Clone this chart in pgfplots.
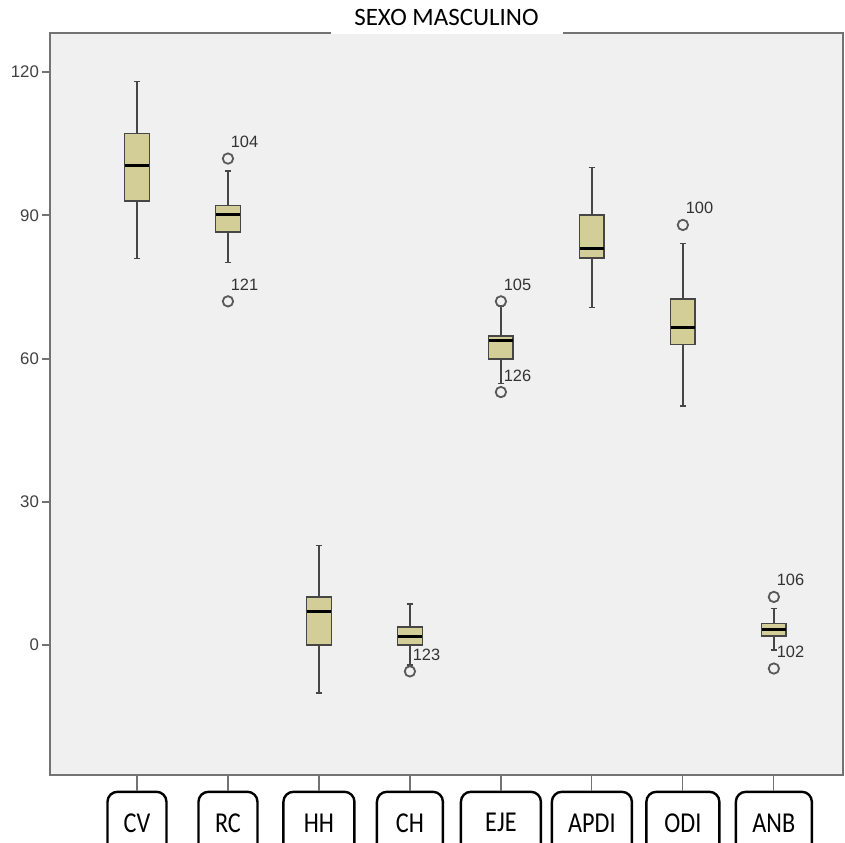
\documentclass[border=0pt]{standalone}
\usepackage{fontspec}
\setmainfont{Liberation Sans}
\newfontfamily\carlito{Carlito}
\usepackage{graphicx}
\usepackage{pgfplots}
\usepgfplotslibrary{statistics}
\pgfplotsset{compat=1.18}
\definecolor{bg}{RGB}{240,240,240}
\definecolor{boxc}{RGB}{211,206,151}
\definecolor{axc}{RGB}{115,115,115}
\definecolor{edge}{RGB}{70,70,70}
\newcommand{\lab}[2]{\makebox[#1]{\scalebox{0.84}[1]{#2}}}
\begin{document}
\begin{tikzpicture}
\begin{axis}[
  scale only axis,
  width=396.5pt, height=371pt,
  xmin=-0.956, xmax=7.76,
  ymin=-27.2, ymax=128.2,
  axis background/.style={fill=bg},
  axis line style={draw=axc, line width=1pt},
  tick pos=left,
  tick align=outside,
  major tick length=4pt,
  ytick={0,30,60,90,120},
  y tick style={draw=axc, line width=0.9pt},
  x tick style={draw=axc, line width=0.6pt},
  /pgf/number format/assume math mode=true,
  yticklabel style={font=\fontsize{8.4}{9}\selectfont, text=black!75, xshift=2pt},
  xtick={0,1,2,3,4,5,6,7},
  xticklabels={\lab{29.5pt}{CV},\lab{29.5pt}{RC},\lab{35.5pt}{HH},\lab{33pt}{CH},\lab{40pt}{EJE},\lab{40pt}{APDI},\lab{36.5pt}{ODI},\lab{38pt}{ANB}},
  xticklabel style={font=\carlito\fontsize{14.4}{15}\selectfont, draw=black, line width=1.2pt,
    rounded corners=5pt, inner xsep=0pt, inner ysep=0pt, minimum height=31pt, anchor=north,
    yshift=-3.8pt,
    append after command={(\tikzlastnode.north) edge[draw=axc, line width=0.6pt, sharp corners] ++(0,4.2pt)}},
  boxplot/draw direction=y,
  boxplot/box extend=0.27,
  boxplot/whisker extend=0.07,
  boxplot/every median/.style={line width=1.6pt, draw=black},
  boxplot/every whisker/.style={line width=0.8pt, draw=edge},
  boxplot/every box/.style={draw=edge, line width=0.7pt, fill=boxc},
]
\addplot[boxplot prepared={draw position=0, lower whisker=81.0, lower quartile=93.0, median=100.5, upper quartile=107.1, upper whisker=118.0}] coordinates {};
\addplot[boxplot prepared={draw position=1, lower whisker=80.1, lower quartile=86.5, median=90.2, upper quartile=92.1, upper whisker=99.3}] coordinates {};
\addplot[boxplot prepared={draw position=2, lower whisker=-10.0, lower quartile=0.0, median=7.1, upper quartile=10.1, upper whisker=20.9}] coordinates {};
\addplot[boxplot prepared={draw position=3, lower whisker=-4.2, lower quartile=0.0, median=1.8, upper quartile=3.8, upper whisker=8.6}] coordinates {};
\addplot[boxplot prepared={draw position=4, lower whisker=54.8, lower quartile=59.9, median=63.8, upper quartile=64.7, upper whisker=71.0}] coordinates {};
\addplot[boxplot prepared={draw position=5, lower whisker=70.7, lower quartile=81.1, median=83.1, upper quartile=90.1, upper whisker=100.0}] coordinates {};
\addplot[boxplot prepared={draw position=6, lower whisker=50.1, lower quartile=63.0, median=66.6, upper quartile=72.5, upper whisker=84.1}] coordinates {};
\addplot[boxplot prepared={draw position=7, lower whisker=-1.0, lower quartile=1.9, median=3.3, upper quartile=4.5, upper whisker=7.7}] coordinates {};
\addplot[only marks, mark=o, mark size=2.6pt, mark options={draw=black!65, line width=0.9pt},
  nodes near coords, point meta=explicit symbolic,
  nodes near coords style={anchor=south west, inner sep=0pt, xshift=1pt, yshift=5pt,
    font=\fontsize{8.2}{9}\selectfont, text=black!80}]
  coordinates {(1,101.9)[104] (1,72.0)[121] (3,-5.5)[123] (4,72.0)[105] (4,53.0)[126] (6,88.0)[100] (7,10.1)[106] (7,-4.9)[102]};
\coordinate (bl) at (rel axis cs:0,0);
\coordinate (tr) at (rel axis cs:1,1);
\coordinate (tc) at (rel axis cs:0.5,1);
\end{axis}
\node[fill=white, minimum width=116pt, minimum height=17pt, inner sep=0pt,
  font=\carlito\fontsize{12.5}{13}\selectfont] at ([yshift=8pt]tc) {SEXO MASCULINO};
\pgfresetboundingbox
\path[use as bounding box] ([shift={(-25pt,-33.5pt)}]bl) rectangle ([shift={(1pt,16.5pt)}]tr);
\end{tikzpicture}
\end{document}
